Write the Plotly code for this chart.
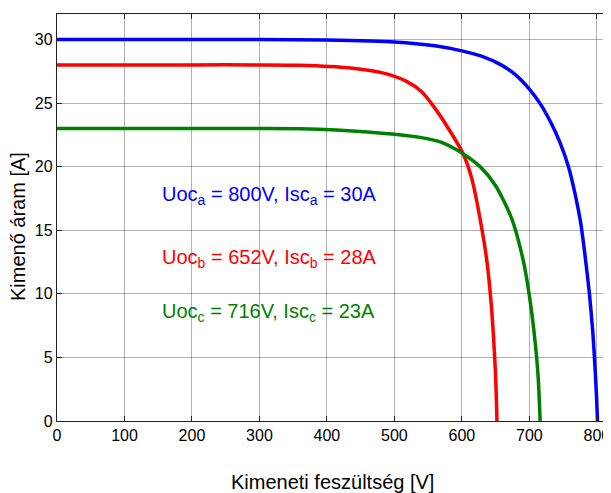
import plotly.graph_objects as go

# Curve a (blue): Uoc=800V, Isc=30A
va = [0, 100, 200, 300, 400, 500, 560, 600, 628, 658, 680, 700, 716, 732, 745, 758, 768, 776, 783, 789, 794, 797, 799.5, 801]
ia = [30.0, 30.0, 30.0, 30.0, 29.95, 29.8, 29.5, 29.1, 28.7, 28.0, 27.2, 26.1, 24.95, 23.45, 21.95, 20.0, 17.8, 15.6, 12.8, 10.0, 7.0, 4.5, 2.0, 0.0]

# Curve b (red): Uoc=652V, Isc=28A
vb = [0, 100, 200, 300, 360, 435, 484, 518, 540, 560, 580, 602, 615, 630, 637, 643, 647, 650, 652]
ib = [28.0, 28.0, 28.0, 28.0, 27.97, 27.75, 27.35, 26.7, 25.9, 24.6, 23.0, 21.0, 19.0, 15.0, 12.6, 9.5, 6.5, 3.5, 0.0]

# Curve c (green): Uoc=716V, Isc=23A
vc = [0, 100, 200, 300, 360, 460, 538, 570, 602, 627, 650, 674, 691, 701, 709, 713, 716]
ic = [23.0, 23.0, 23.0, 23.0, 22.98, 22.73, 22.3, 21.9, 21.0, 20.0, 18.5, 15.9, 12.6, 9.5, 6.0, 3.5, 0.0]

x_ticks = [0, 100, 200, 300, 400, 500, 600, 700, 800]
y_ticks = [0, 5, 10, 15, 20, 25, 30]

labels = ["Uoc<sub>a</sub> = 800V, Isc<sub>a</sub> = 30A",
          "Uoc<sub>b</sub> = 652V, Isc<sub>b</sub> = 28A",
          "Uoc<sub>c</sub> = 716V, Isc<sub>c</sub> = 23A"]
label_y = [17.75, 12.8, 8.5]
colors = ["#0000ff", "#ff0000", "#008000"]

x_title = "Kimeneti feszültség [V]"
y_title = "Kimenő áram [A]"

FONT = "Liberation Sans, Arial, Helvetica, sans-serif"

fig = go.Figure()
for v, i, c in [(va, ia, colors[0]), (vb, ib, colors[1]), (vc, ic, colors[2])]:
    fig.add_trace(go.Scatter(x=v, y=i, mode="lines",
                             line=dict(color=c, width=3.5, shape="spline", smoothing=0.7),
                             showlegend=False, hoverinfo="skip"))

# invisible trace for right-side ticks
fig.add_trace(go.Scatter(x=[0], y=[0], yaxis="y2", mode="markers", marker=dict(opacity=0),
                         showlegend=False, hoverinfo="skip"))

for txt, yy, c in zip(labels, label_y, colors):
    fig.add_annotation(x=153, y=yy, xref="x", yref="y", text=txt, showarrow=False,
                       xanchor="left", yanchor="middle", font=dict(family=FONT, size=20, color=c))

# axis titles
fig.add_annotation(x=0.498, y=-0.150, xref="paper", yref="paper", text=x_title, showarrow=False,
                   xanchor="center", yanchor="middle", font=dict(family=FONT, size=20, color="black"))
fig.add_annotation(x=-0.0704, y=0.479, xref="paper", yref="paper", text=y_title, showarrow=False,
                   textangle=-90, xanchor="center", yanchor="middle",
                   font=dict(family=FONT, size=20, color="black"))

# page body has an 8px default margin, so the figure is sized/offset to compensate
fig.update_layout(
    width=603, height=485,
    margin=dict(l=49, r=0, t=6, b=72, autoexpand=False),
    paper_bgcolor="white", plot_bgcolor="white",
    font=dict(family=FONT, size=16, color="black"),
    xaxis=dict(range=[0, 821], tickvals=x_ticks, ticks="inside", ticklen=5, tickcolor="#222",
               showline=True, linecolor="#222", linewidth=1.3, mirror="ticks", automargin=False,
               showgrid=True, gridcolor="rgba(0,0,0,0.3)", gridwidth=1, zeroline=False,
               tickfont=dict(size=16)),
    yaxis=dict(range=[0, 32], tickvals=y_ticks, ticks="inside", ticklen=5, tickcolor="#222",
               showline=True, linecolor="#222", linewidth=1.3, mirror=False, automargin=False,
               showgrid=True, gridcolor="rgba(0,0,0,0.3)", gridwidth=1, zeroline=False,
               tickfont=dict(size=16)),
    yaxis2=dict(range=[0, 32], tickvals=y_ticks, ticks="inside", ticklen=5, tickcolor="#222",
                overlaying="y", side="right", showticklabels=False, showgrid=False,
                showline=False, zeroline=False, automargin=False),
)

fig.write_html("out.html")
